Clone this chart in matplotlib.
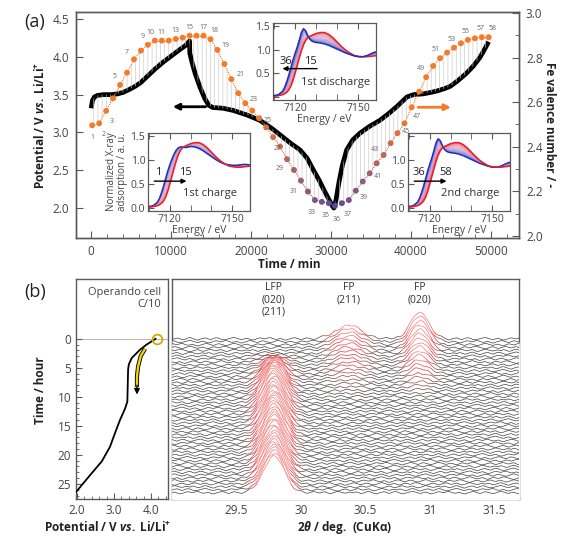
import numpy as np
import matplotlib
matplotlib.use('Agg')
import matplotlib.pyplot as plt
from matplotlib.colors import LinearSegmentedColormap, to_rgb
from matplotlib.collections import LineCollection
from matplotlib.ticker import MultipleLocator, FixedLocator, FormatStrFormatter, NullLocator

plt.rcParams['font.family'] = ['Open Sans', 'DejaVu Sans']
plt.rcParams['hatch.linewidth'] = 0.45
plt.rcParams['mathtext.fontset'] = 'custom'
plt.rcParams['mathtext.rm'] = 'Open Sans:bold'
plt.rcParams['mathtext.it'] = 'Open Sans:italic:bold'
plt.rcParams['mathtext.bf'] = 'Open Sans:bold'

# ---------------- (a) potential curve ----------------
pot_time = [0, 150, 400, 800, 1500, 2500, 3300, 4000, 4800, 5500, 6200, 7000, 8000, 9000,
            10000, 11000, 11800, 12300, 12330, 12600, 13000, 13600, 14200, 14700, 15200,
            16500, 17800, 19500, 21100, 22500, 23600, 24900, 26100, 27000, 27800, 28500,
            29100, 29700, 30150, 30350, 30600, 31000, 31400, 31950, 32700, 33600, 34800,
            36100, 37200, 38200, 39000, 39500, 40300, 41500, 42500, 43300, 44200, 44900,
            45800, 46900, 47800, 48600, 49200, 49700]
pot_volt = [3.32, 3.42, 3.47, 3.49, 3.50, 3.50, 3.51, 3.53, 3.57, 3.61, 3.66, 3.74, 3.84, 3.93,
            4.01, 4.09, 4.15, 4.21, 4.05, 3.93, 3.78, 3.60, 3.45, 3.36, 3.33,
            3.32, 3.29, 3.23, 3.16, 3.06, 2.97, 2.86, 2.77, 2.66, 2.50, 2.37,
            2.24, 2.12, 2.03, 2.00, 2.10, 2.35, 2.56, 2.77, 2.90, 2.99, 3.08,
            3.16, 3.25, 3.34, 3.42, 3.47, 3.50, 3.51, 3.53, 3.55, 3.58, 3.61,
            3.68, 3.78, 3.88, 3.99, 4.10, 4.20]

# Fe valence points (numbered 1..58)
val_time = [125, 1000, 1870, 2740, 3610, 4480, 5350, 6220, 7090, 7960, 8830, 9700, 10570,
            11440, 12310, 13180, 14050, 14920, 15790, 16660, 17530, 18400, 19270, 20140,
            21010, 21880, 22750, 23620, 24490, 25360, 26230, 27100, 27970, 28840, 29710,
            30480, 31350, 32220, 33090, 33960, 34830, 35700, 36570, 37440, 38310, 39180,
            40080, 41020, 41890, 42760, 43630, 44500, 45370, 46240, 47110, 47980, 48850, 49715]
val_fe = [2.496, 2.505, 2.561, 2.617, 2.677, 2.732, 2.792, 2.831, 2.857, 2.876, 2.876, 2.876,
          2.883, 2.889, 2.898, 2.898, 2.898, 2.882, 2.834, 2.771, 2.703, 2.640, 2.595, 2.562,
          2.528, 2.487, 2.443, 2.401, 2.344, 2.296, 2.248, 2.199, 2.161, 2.153, 2.147, 2.135,
          2.147, 2.161, 2.203, 2.244, 2.281, 2.326, 2.363, 2.416, 2.461, 2.505, 2.577, 2.647,
          2.712, 2.762, 2.797, 2.822, 2.844, 2.864, 2.879, 2.886, 2.891, 2.891]
val_labels = [1, 2, 3, 5, 7, 9, 10, 11, 13, 15, 17, 18, 19, 21, 23, 25, 27, 29, 31, 33, 35,
              36, 37, 39, 41, 43, 45, 47, 49, 51, 53, 55, 57, 58]

# XANES spectra (insets)
xas_energy = [7108, 7110, 7112, 7114, 7115, 7116, 7117, 7118, 7119, 7120, 7121, 7122, 7123,
              7124, 7125, 7126, 7127, 7128, 7129, 7130, 7132, 7134, 7136, 7138, 7140, 7142,
              7144, 7146, 7148, 7150, 7152, 7154, 7156, 7158, 7160]
xas_fe2 = [0.02, 0.03, 0.05, 0.12, 0.20, 0.32, 0.46, 0.62, 0.78, 0.92, 1.05, 1.20, 1.36, 1.44,
           1.40, 1.30, 1.22, 1.18, 1.16, 1.15, 1.14, 1.12, 1.09, 1.05, 1.01, 0.97, 0.93, 0.90,
           0.87, 0.85, 0.85, 0.87, 0.91, 0.95, 0.93]
xas_fe3 = [0.02, 0.02, 0.03, 0.05, 0.07, 0.10, 0.15, 0.23, 0.35, 0.50, 0.66, 0.82, 0.97, 1.10,
           1.19, 1.25, 1.28, 1.30, 1.32, 1.34, 1.36, 1.36, 1.32, 1.25, 1.16, 1.07, 0.99, 0.93,
           0.88, 0.86, 0.85, 0.85, 0.86, 0.87, 0.87]
xas_pristine = [0.02, 0.03, 0.05, 0.12, 0.20, 0.32, 0.46, 0.62, 0.77, 0.90, 1.02, 1.12, 1.20,
                1.25, 1.27, 1.27, 1.26, 1.26, 1.27, 1.28, 1.27, 1.24, 1.19, 1.13, 1.07, 1.01,
                0.96, 0.92, 0.90, 0.89, 0.89, 0.90, 0.91, 0.90, 0.89]
frac_charge1 = [0.0, 0.07, 0.14, 0.21, 0.29, 0.36, 0.43, 0.5, 0.57, 0.64, 0.71, 0.79, 0.86, 0.93, 1.0]
frac_discharge = [1.0, 0.95, 0.9, 0.86, 0.81, 0.76, 0.71, 0.67, 0.62, 0.57, 0.52, 0.48, 0.43,
                  0.38, 0.33, 0.29, 0.24, 0.19, 0.14, 0.1, 0.05, 0.0]
frac_charge2 = [0.0, 0.05, 0.09, 0.14, 0.18, 0.23, 0.27, 0.32, 0.36, 0.41, 0.45, 0.5, 0.55,
                0.59, 0.64, 0.68, 0.73, 0.77, 0.82, 0.86, 0.91, 0.95, 1.0]

# ---------------- (b) operando data ----------------
cell_time = [0, 0.2, 1.0, 1.9, 3.3, 4.4, 5.3, 8.0, 10.8, 12.0, 14.0, 16.0, 18.6, 21.1, 23.5, 26.4, 27.2]
cell_volt = [4.12, 4.08, 3.88, 3.70, 3.48, 3.40, 3.38, 3.37, 3.36, 3.30, 3.16, 3.04, 2.89, 2.67, 2.35, 1.97, 1.85]

scan_time = [0.0, 0.5, 1.0, 1.5, 2.0, 2.5, 3.0, 3.5, 4.0, 4.5, 5.0, 5.5, 6.0, 6.5, 7.0, 7.5,
             8.0, 8.5, 9.0, 9.5, 10.0, 10.5, 11.0, 11.5, 12.0, 12.5, 13.0, 13.5, 14.0, 14.5,
             15.0, 15.5, 16.0, 16.5, 17.0, 17.5, 18.0, 18.5, 19.0, 19.5, 20.0, 20.5, 21.0,
             21.5, 22.0, 22.5, 23.0, 23.5, 24.0, 24.5, 25.0, 25.5, 26.0, 26.5]
lfp_height = [0, 0, 0, 0, 0, 0.1, 0.3, 0.6, 1.0, 1.4, 1.8, 2.2, 2.6, 3.0, 3.4, 3.8, 4.2, 4.6,
              5.0, 5.3, 5.6, 5.8, 5.9, 6.0, 6.0, 6.1, 6.1, 6.1, 6.2, 6.2, 6.2, 6.2, 6.3, 6.3,
              6.3, 6.3, 6.3, 6.3, 6.3, 6.3, 6.3, 6.3, 6.3, 6.3, 6.3, 6.3, 6.3, 6.3, 6.3, 6.3,
              6.3, 6.3, 6.3, 6.3]
fp211_height = [2.3, 2.2, 2.1, 1.95, 1.8, 1.7, 1.55, 1.45, 1.3, 1.2, 1.05, 0.95, 0.8, 0.7, 0.6,
                0.45, 0.35, 0.25, 0.15, 0.1, 0.05] + [0] * 33
fp020_height = [4.6, 4.4, 4.15, 3.9, 3.65, 3.4, 3.15, 2.9, 2.65, 2.4, 2.15, 1.9, 1.65, 1.4,
                1.15, 0.9, 0.7, 0.5, 0.35, 0.2, 0.1, 0.05] + [0] * 32
peak_pos = [29.79, 30.37, 30.92]
peak_width = [0.08, 0.10, 0.07]
scan_noise = [0.3, -0.2, 0.5, 0.1, -0.6, -0.3, 0.4, 0.8, 0.2, -0.4, -0.9, -0.2, 0.3, 0.6, -0.1,
              -0.5, 0.2, 0.7, 0.4, -0.3, -0.7, -0.4, 0.1, 0.5, 0.9, 0.3, -0.2, -0.6, 0.0, 0.4,
              -0.3, -0.8, -0.5, 0.2, 0.6, 0.3, -0.1, 0.5, 0.8, 0.1, -0.4, -0.2, 0.3, -0.5, -0.9,
              -0.3, 0.2, 0.7, 0.5, -0.1, -0.6, 0.1, 0.6, 0.2, -0.3, -0.7, -0.2, 0.4, 0.9, 0.4,
              -0.2, -0.5, 0.0, 0.3, -0.4, -0.8, -0.1, 0.5, 0.2, -0.3, 0.3, 0.8, 0.6, 0.0, -0.5,
              -0.9, -0.4, 0.2, 0.5, -0.1, -0.6, -0.2, 0.4, 0.7, 0.1, -0.3, 0.2, 0.6, -0.2, -0.7,
              -0.3, 0.3, 0.8, 0.4, -0.1, -0.4, 0.1]

# ---------------- styling helpers ----------------
SP = '#5a5a5a'
TXT = '#444444'
ORANGE = np.array(to_rgb('#f47b2a'))
PURPLE = np.array(to_rgb('#5a4a9c'))


def style_axes(a, lw=1.0):
    for s in a.spines.values():
        s.set_color(SP)
        s.set_linewidth(lw)
    a.tick_params(which='both', direction='in', colors=SP, labelcolor=TXT)


fig = plt.figure(figsize=(5.68, 5.37), dpi=100)
W, H = 568.0, 537.0


def rect(l, t, r, b):
    return [l / W, 1 - b / H, (r - l) / W, (b - t) / H]


# ================= (a) =================
ax = fig.add_axes(rect(76, 12, 519, 238))
ax.set_xlim(-1900, 53500)
ax.set_ylim(1.604, 4.593)
style_axes(ax)
ax.xaxis.set_major_locator(MultipleLocator(10000))
ax.xaxis.set_minor_locator(MultipleLocator(2000))
ax.yaxis.set_major_locator(MultipleLocator(0.5))
ax.yaxis.set_major_formatter(FormatStrFormatter('%.1f'))
ax.tick_params(which='major', length=5, labelsize=8.5, pad=5)
ax.tick_params(which='minor', length=3)
ax.tick_params(axis='y', right=False)
ax.plot(pot_time, pot_volt, color='black', lw=3.4, solid_capstyle='butt', zorder=3)

ax2 = ax.twinx()
ax2.set_ylim(1.991, 3.004)
style_axes(ax2)
ax2.yaxis.set_major_locator(MultipleLocator(0.2))
ax2.yaxis.set_minor_locator(MultipleLocator(0.1))
ax2.yaxis.set_major_formatter(FormatStrFormatter('%.1f'))
ax2.tick_params(which='major', length=5, labelsize=8.5, pad=5)
ax2.tick_params(which='minor', length=3)

# hatching between potential curve and valence points
pot_xy = np.column_stack([pot_time, pot_volt])
pot_in_v = ax2.transData.inverted().transform(ax.transData.transform(pot_xy))[:, 1]
tgrid = np.linspace(val_time[0], val_time[-1], 900)
ya = np.interp(tgrid, val_time, val_fe)
yb = np.interp(tgrid, pot_time, pot_in_v)
ax2.fill_between(tgrid, ya, yb, hatch='||||', facecolor='none', edgecolor='#c8c8c8',
                 linewidth=0, zorder=1)

# dot colours
n = len(val_fe)
cols = []
for i in range(1, n + 1):
    if i <= 24:
        f = 1.0
    elif i <= 36:
        f = 1 - (i - 24) / 12
    elif i <= 47:
        f = (i - 36) / 11
    else:
        f = 1.0
    cols.append(tuple(f * ORANGE + (1 - f) * PURPLE))
for i in range(n - 1):
    ax2.plot(val_time[i:i + 2], val_fe[i:i + 2], ls=(0, (1, 1)), lw=0.8, color=cols[i], zorder=4)
ax2.scatter(val_time, val_fe, s=18, c=cols, zorder=5, linewidths=0)

lab_off = {1: (0, -9), 2: (3, -8), 3: (4, -8), 5: (-4, 6), 7: (-5, 5), 9: (-4, 6), 10: (-3, 6),
           11: (0, 6), 13: (0, 6), 15: (0, 6), 17: (0, 6), 18: (3, 6), 19: (6, 3), 21: (7, 3),
           23: (6, 3), 25: (6, -2), 27: (3, -8), 29: (-5, -7), 31: (-5, -8), 33: (-2, -9),
           35: (-2, -9), 36: (1, -10), 37: (4, -8), 39: (6, -5), 41: (6, -2), 43: (-6, 4),
           45: (6, 1), 47: (4, -7), 49: (-4, 6), 51: (-3, 6), 53: (-2, 6), 55: (-2, 6),
           57: (-1, 6), 58: (3, 6)}
for lab in val_labels:
    ax2.annotate(str(lab), (val_time[lab - 1], val_fe[lab - 1]), xytext=lab_off[lab],
                 textcoords='offset points', fontsize=5, color='#666666',
                 ha='center', va='center', zorder=6)

ax.annotate('', xy=(10200, 3.34), xytext=(14300, 3.34),
            arrowprops=dict(arrowstyle='-|>', color='black', lw=2.0, mutation_scale=9,
                            shrinkA=0, shrinkB=0))
ax2.annotate('', xy=(45000, 2.577), xytext=(40900, 2.577),
             arrowprops=dict(arrowstyle='-|>', color='#f47b2a', lw=2.0, mutation_scale=9,
                             shrinkA=0, shrinkB=0))

# ---- insets ----
cmap = LinearSegmentedColormap.from_list('br', ['#2530b8', '#7d78d4', '#c8a0d0', '#f08090', '#e81e2c'])


def make_inset(r, fr, start, title, lab_a, lab_b, arrow_left, ylabels, ylab=False):
    ai = fig.add_axes(rect(*r))
    ai.set_facecolor('white')
    ai.set_xlim(7109.5, 7158.5)
    ai.set_ylim(-0.06, 1.56)
    style_axes(ai, 0.9)
    ai.xaxis.set_major_locator(FixedLocator([7120, 7150]))
    ai.xaxis.set_minor_locator(FixedLocator([7110, 7130, 7140]))
    ai.yaxis.set_major_locator(FixedLocator([0, 0.5, 1.0, 1.5]))
    ai.yaxis.set_major_formatter(
        matplotlib.ticker.FuncFormatter(lambda v, p: ('%.1f' % v) if v in ylabels else ''))
    ai.tick_params(which='both', top=True, labelsize=7.5, pad=2)
    ai.tick_params(which='major', length=4)
    ai.tick_params(which='minor', length=4)
    ai.set_xlabel('Energy / eV', fontsize=7.5, color=TXT, labelpad=0)
    if ylab:
        ai.set_ylabel('Normalized X-ray\nadsorption / a. u.', fontsize=7, color=TXT,
                      labelpad=2, linespacing=1.0)
    a0 = np.array(start)
    a1 = np.array(xas_fe3)
    for f in fr:
        y = (1 - f) * a0 + f * a1
        end = (f == 0 or f == 1)
        ai.plot(xas_energy, y, color=cmap(f), lw=1.1 if end else 0.5,
                alpha=1.0 if end else 0.6, zorder=3 if end else 2)
    ai.text(7139.5, 0.3, title, fontsize=8, color='#333333', ha='center', va='center')
    if arrow_left:
        ai.annotate('', xy=(7114, 0.6), xytext=(7130.5, 0.6),
                    arrowprops=dict(arrowstyle='-|>', color='black', lw=1.0, mutation_scale=7,
                                    shrinkA=0, shrinkB=0))
        ai.text(7115.5, 0.76, lab_a, fontsize=8, ha='center', va='center', color='#222222')
        ai.text(7127.5, 0.76, lab_b, fontsize=8, ha='center', va='center', color='#222222')
    else:
        ai.annotate('', xy=(7128, 0.56), xytext=(7112.5, 0.56),
                    arrowprops=dict(arrowstyle='-|>', color='black', lw=1.0, mutation_scale=7,
                                    shrinkA=0, shrinkB=0))
        ai.text(7114.5, 0.74, lab_a, fontsize=8, ha='center', va='center', color='#222222')
        ai.text(7127.5, 0.74, lab_b, fontsize=8, ha='center', va='center', color='#222222')
    return ai


make_inset((148, 133, 250, 211), frac_charge1, xas_pristine, '1st charge', '1', '15', False,
           [0.0, 0.5, 1.0, 1.5], ylab=True)
make_inset((273, 23, 376, 100), frac_discharge, xas_fe2, '1st discharge', '36', '15', True,
           [0.5, 1.0, 1.5])
make_inset((408, 133, 510, 211), frac_charge2, xas_fe2, '2nd charge', '36', '58', False,
           [0.0, 0.5, 1.0])

fig.text(0.51, 1 - 265 / H, 'Time / min', fontsize=8.5, fontweight='bold', color='#222222',
         ha='center', va='center')
fig.text(40 / W, 1 - 125 / H, r'Potential / V $\mathit{vs.}$ Li/Li$^{+}$', fontsize=8.5,
         fontweight='bold', color='#222222', rotation=90, ha='center', va='center')
fig.text(549 / W, 1 - 125 / H, 'Fe valence number / -', fontsize=8.5, fontweight='bold',
         color='#222222', rotation=270, ha='center', va='center')
fig.text(35 / W, 1 - 22 / H, '(a)', fontsize=13, color='#222222', ha='center', va='center')
fig.text(35 / W, 1 - 292 / H, '(b)', fontsize=13, color='#222222', ha='center', va='center')

# ================= (b) left =================
axL = fig.add_axes(rect(76, 279, 168, 499))
axL.set_xlim(1.97, 4.46)
axL.set_ylim(27.6, -10.3)
style_axes(axL)
axL.xaxis.set_major_locator(FixedLocator([2.0, 3.0, 4.0]))
axL.xaxis.set_major_formatter(FormatStrFormatter('%.1f'))
axL.xaxis.set_minor_locator(MultipleLocator(0.2))
axL.yaxis.set_major_locator(FixedLocator([0, 5, 10, 15, 20, 25]))
axL.yaxis.set_minor_locator(FixedLocator(list(range(0, 28))))
axL.tick_params(which='major', length=4, labelsize=8.5)
axL.tick_params(which='minor', length=2)
axL.axhline(0, color='#bbbbbb', lw=0.8, zorder=1)
axL.plot(cell_volt, cell_time, color='black', lw=1.3, zorder=3)
axL.plot([4.16], [0], 'o', ms=7, mfc='none', mec='#c8b000', mew=1.3, zorder=4)
arr_v = [3.84, 3.72, 3.65, 3.62, 3.62]
arr_t = [1.7, 3.0, 4.8, 6.5, 8.3]
axL.plot(arr_v, arr_t, color='black', lw=3.0, zorder=4, solid_capstyle='butt')
axL.plot(arr_v, arr_t, color='#f2d400', lw=1.7, zorder=5, solid_capstyle='butt')
axL.annotate('', xy=(3.62, 9.6), xytext=(3.62, 8.0),
             arrowprops=dict(arrowstyle='-|>', color='black', lw=1.0, mutation_scale=8,
                             shrinkA=0, shrinkB=0), zorder=6)
axL.text(0.93, 0.965, 'Operando cell\nC/10', transform=axL.transAxes, fontsize=8,
         color=TXT, ha='right', va='top', multialignment='right', linespacing=1.2)
fig.text(40 / W, 1 - 390 / H, 'Time / hour', fontsize=8.5, fontweight='bold', color='#222222',
         rotation=90, ha='center', va='center')
fig.text(108 / W, 1 - 527 / H, r'Potential / V $\mathit{vs.}$ Li/Li$^{+}$', fontsize=8.5,
         fontweight='bold', color='#222222', ha='center', va='center')

# ================= (b) right waterfall =================
axR = fig.add_axes(rect(172, 279, 519, 499))
axR.set_xlim(29.0, 31.69)
axR.set_ylim(27.6, -10.3)
style_axes(axR)
axR.yaxis.set_major_locator(NullLocator())
axR.xaxis.set_major_locator(FixedLocator([29.5, 30.0, 30.5, 31.0, 31.5]))
axR.xaxis.set_major_formatter(matplotlib.ticker.FuncFormatter(lambda v, p: ('%g' % v)))
axR.xaxis.set_minor_locator(MultipleLocator(0.1))
axR.tick_params(which='major', length=4, labelsize=8.5)
axR.tick_params(which='minor', length=2.5)

xx = np.linspace(29.0, 31.69, 135)
L = len(scan_noise)
wcmap = LinearSegmentedColormap.from_list('wr', ['#3c3c3c', '#b84545', '#e8303a', '#f27a7a'])
heights = [lfp_height, fp211_height, fp020_height]
for i, t0 in enumerate(scan_time):
    sig = np.zeros_like(xx)
    for h, p, w in zip(heights, peak_pos, peak_width):
        sig += h[i] * np.exp(-0.5 * ((xx - p) / w) ** 2)
    nz = np.array([scan_noise[(k + 17 * i) % L] for k in range(len(xx))]) * 0.27
    y = t0 - sig - nz
    axR.fill_between(xx, y, 40, color='white', lw=0, zorder=2 * i + 1)
    pts = np.column_stack([xx, y])
    segs = np.stack([pts[:-1], pts[1:]], axis=1)
    wv = np.clip((sig[:-1] + sig[1:]) / 2 / 2.0, 0, 1)
    lc = LineCollection(segs, colors=wcmap(wv), linewidths=0.5, zorder=2 * i + 2)
    axR.add_collection(lc)

for lbl, p in zip(['LFP\n(020)\n(211)', 'FP\n(211)', 'FP\n(020)'], peak_pos):
    axR.text(p, -9.7, lbl, fontsize=7.5, color='#333333', ha='center', va='top', linespacing=1.15,
             zorder=200)
fig.text(345 / W, 1 - 527 / H, r'2$\mathit{θ}$ / deg.  (CuKα)', fontsize=8.5, fontweight='bold',
         color='#222222', ha='center', va='center')

fig.savefig('out.png', dpi=100)
